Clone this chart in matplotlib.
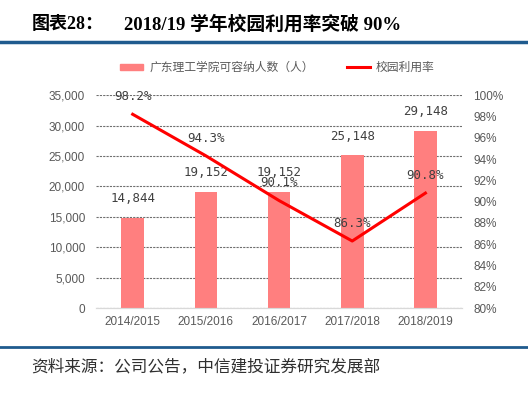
import matplotlib
matplotlib.use("Agg")
import matplotlib.pyplot as plt
from matplotlib.lines import Line2D
from matplotlib.patches import Patch
import numpy as np

# data
years = ["2014/2015", "2015/2016", "2016/2017", "2017/2018", "2018/2019"]
capacity = [14844, 19152, 19152, 25148, 29148]
usage_rate = [98.2, 94.3, 90.1, 86.3, 90.8]

cjk = ["Liberation Sans", "Noto Sans CJK SC", "DejaVu Sans"]
plt.rcParams["font.family"] = cjk

fig = plt.figure(figsize=(5.28, 3.93), dpi=100)
ax = fig.add_axes([0.182, 0.216, 0.693, 0.542])
ax2 = ax.twinx()

x = np.arange(len(years))
bar_color = "#FF7F7F"
line_color = "#FF0000"
grey = "#595959"

ax.bar(x, capacity, width=0.31, color=bar_color, zorder=2)
ax.set_ylim(0, 35000)
ax.set_yticks(np.arange(0, 35001, 5000))
ax.set_yticklabels(["{:,}".format(v) for v in range(0, 35001, 5000)])
ax.set_xlim(-0.5, len(years) - 0.5)
ax.set_xticks(x)
ax.set_xticklabels(years)
ax.yaxis.grid(True, linestyle=(0, (2, 1)), color="#6f6f6f", linewidth=0.8, zorder=0)
ax.set_axisbelow(True)

ax2.plot(x, usage_rate, color=line_color, linewidth=2.2, zorder=3)
ax2.set_ylim(80, 100)
ax2.set_yticks(np.arange(80, 101, 2))
ax2.set_yticklabels(["{}%".format(v) for v in range(80, 101, 2)])

for a in (ax, ax2):
    for s in ["top", "left", "right"]:
        a.spines[s].set_visible(False)
    a.spines["bottom"].set_color("#d9d9d9")
    a.tick_params(length=0, labelsize=8.5, colors=grey)
ax.tick_params(axis="x", pad=6)
ax.tick_params(axis="y", pad=8)
ax2.tick_params(axis="y", pad=8)

mono = ["DejaVu Sans Mono"]
for xi, v in zip(x, capacity):
    ax.annotate("{:,}".format(v), (xi, v), xytext=(0, 9),
                textcoords="offset points", ha="center", va="bottom",
                fontsize=9, color="#404040", family=mono)
for xi, v in zip(x, usage_rate):
    ax2.annotate("{:.1f}%".format(v), (xi, v), xytext=(0, 8),
                 textcoords="offset points", ha="center", va="bottom",
                 fontsize=9, color="#404040", family=mono)

handles = [Patch(color=bar_color), Line2D([0], [0], color=line_color, linewidth=2.2)]
fig.legend(handles, ["广东理工学院可容纳人数（人）", "校园利用率"], loc="center",
           bbox_to_anchor=(0.525, 0.827), ncol=2, frameon=False, fontsize=8.5,
           labelcolor=grey, handlelength=2.0, handletextpad=0.5,
           columnspacing=2.8, handleheight=0.45)

# title and source
title_font = ["Liberation Serif", "Noto Sans CJK SC"]
fig.text(0.06, 0.937, "图表28：", fontsize=13, fontweight="bold",
         family=title_font, va="center")
fig.text(0.235, 0.937, "2018/19 学年校园利用率突破 90%", fontsize=13.5, fontweight="bold",
         family=title_font, va="center")
fig.add_artist(Line2D([0, 1], [0.892, 0.892], color="#1F5B8E", linewidth=2.5))
fig.add_artist(Line2D([0, 1], [0.117, 0.117], color="#1F5B8E", linewidth=2.0))
fig.text(0.06, 0.067, "资料来源：公司公告，中信建投证券研究发展部", fontsize=12,
         family=["Noto Sans CJK SC"], va="center", color="#303030", style="italic")

fig.savefig("out.png", dpi=100)
